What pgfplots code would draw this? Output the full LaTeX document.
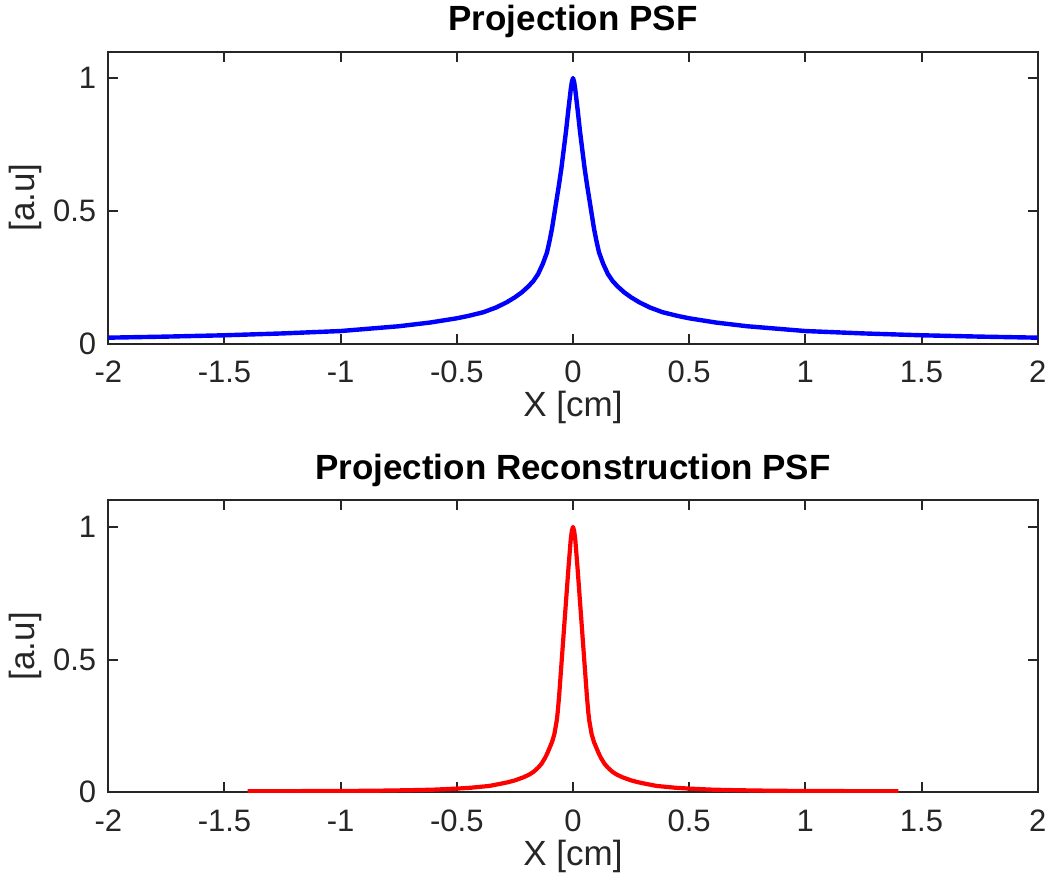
\documentclass[border=0pt]{standalone}
\usepackage{fontspec}
\setmainfont{Liberation Sans}
\usepackage{pgfplots}
\usepackage{pgfplotstable}
\pgfplotsset{compat=1.18}
\definecolor{axc}{RGB}{38,38,38}
\definecolor{mblue}{RGB}{0,0,255}
\definecolor{mred}{RGB}{255,0,0}

\pgfplotstableread{
x y
-2.00 0.022
-1.75 0.026
-1.50 0.031
-1.25 0.038
-1.00 0.047
-0.75 0.065
-0.615 0.079
-0.50 0.095
-0.45 0.104
-0.385 0.118
-0.33 0.136
-0.284 0.156
-0.25 0.174
-0.22 0.193
-0.191 0.216
-0.17 0.236
-0.15 0.262
-0.13 0.300
-0.112 0.343
-0.10 0.390
-0.09 0.435
-0.08 0.490
-0.07 0.545
-0.06 0.600
-0.05 0.660
-0.04 0.730
-0.03 0.800
-0.02 0.880
-0.01 0.955
-0.005 0.985
 0.00 1.000
 0.005 0.985
 0.01 0.955
 0.02 0.880
 0.03 0.800
 0.04 0.730
 0.05 0.660
 0.06 0.600
 0.07 0.545
 0.08 0.490
 0.09 0.435
 0.10 0.390
 0.112 0.343
 0.13 0.300
 0.15 0.262
 0.17 0.236
 0.191 0.216
 0.22 0.193
 0.25 0.174
 0.284 0.156
 0.33 0.136
 0.385 0.118
 0.45 0.104
 0.50 0.095
 0.615 0.079
 0.75 0.065
 1.00 0.047
 1.25 0.038
 1.50 0.031
 1.75 0.026
 2.00 0.022
}\toptable

\pgfplotstableread{
x y
-1.40 0.004
-1.20 0.0045
-1.00 0.005
-0.85 0.006
-0.70 0.008
-0.60 0.010
-0.50 0.014
-0.443 0.017
-0.36 0.024
-0.313 0.032
-0.28 0.038
-0.25 0.045
-0.215 0.056
-0.19 0.066
-0.17 0.077
-0.15 0.093
-0.136 0.107
-0.12 0.130
-0.11 0.148
-0.10 0.169
-0.09 0.190
-0.08 0.220
-0.07 0.270
-0.066 0.300
-0.06 0.360
-0.055 0.420
-0.05 0.480
-0.04 0.600
-0.03 0.720
-0.02 0.840
-0.01 0.950
-0.005 0.985
 0.00 1.000
 0.005 0.985
 0.01 0.950
 0.02 0.840
 0.03 0.720
 0.04 0.600
 0.05 0.480
 0.055 0.420
 0.06 0.360
 0.066 0.300
 0.07 0.270
 0.08 0.220
 0.09 0.190
 0.10 0.169
 0.11 0.148
 0.12 0.130
 0.136 0.107
 0.15 0.093
 0.17 0.077
 0.19 0.066
 0.215 0.056
 0.25 0.045
 0.28 0.038
 0.313 0.032
 0.36 0.024
 0.443 0.017
 0.50 0.014
 0.60 0.010
 0.70 0.008
 0.85 0.006
 1.00 0.005
 1.20 0.0045
 1.40 0.004
}\bottable

\pgfplotsset{
  myax/.style={
    scale only axis,
    width=464.7pt, height=146pt,
    xmin=-2, xmax=2, ymin=0, ymax=1.1,
    xtick={-2,-1.5,-1,-0.5,0,0.5,1,1.5,2},
    xticklabels={-2,-1.5,-1,-0.5,0,0.5,1,1.5,2},
    ytick={0,0.5,1},
    yticklabels={0,0.5,1},
    axis line style={axc, line width=1pt},
    every tick/.style={axc, line width=1pt},
    major tick length=5pt,
    tick align=inside,
    ticklabel style={font=\fontsize{15.5}{18}\selectfont, text=axc},
    xticklabel style={anchor=center, yshift=-14.25pt},
    yticklabel style={anchor=east, xshift=-2.5pt},
    xlabel={X [cm]}, ylabel={[a.u]},
    label style={font=\fontsize{17.5}{20}\selectfont, text=axc},
    xlabel style={at={(axis description cs:0.5,0)}, anchor=center, yshift=-32pt},
    ylabel style={at={(axis description cs:0,0.5)}, anchor=center, yshift=41.5pt},
    title style={font=\fontsize{17.5}{20}\selectfont\bfseries, text=black, at={(axis description cs:0.5,1)}, anchor=center, yshift=9pt},
  }
}

\begin{document}
\begin{tikzpicture}
\path[use as bounding box] (-54.15pt,171.75pt) rectangle (470.35pt,-268.25pt);
\begin{axis}[myax, at={(0pt,0pt)}, anchor=south west, title={Projection PSF}]
\addplot[mblue, line width=2.2pt, line join=round] table[x=x,y=y] {\toptable};
\end{axis}
\begin{axis}[myax, at={(0pt,-224.4pt)}, anchor=south west, title={Projection Reconstruction PSF}]
\addplot[mred, line width=2.1pt, line join=round] table[x=x,y=y] {\bottable};
\end{axis}
\end{tikzpicture}
\end{document}
